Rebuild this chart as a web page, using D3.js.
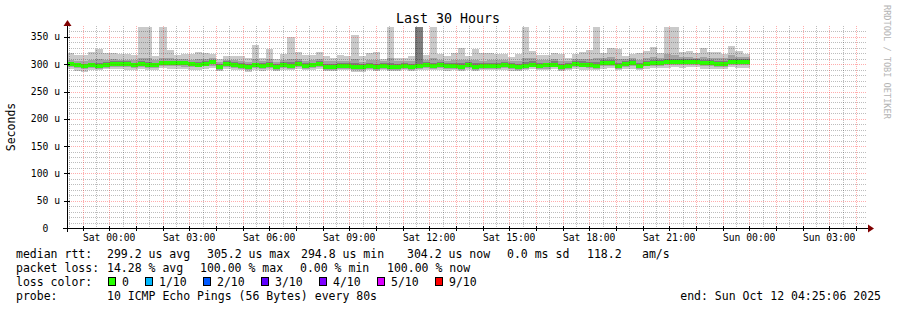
<!DOCTYPE html>
<html>
<head>
<meta charset="utf-8">
<script src="https://cdn.jsdelivr.net/npm/d3@7"></script>
<style>
  body { margin: 0; background: #fff; }
  text { font-family: "DejaVu Sans Mono", monospace; fill: #000; }
</style>
</head>
<body>
<div id="app"></div>
<script>
// time window of the graph (treated as UTC so the labels don't depend on the host)
const startTime = new Date(Date.UTC(2025, 9, 10, 22, 25, 6));
const endTime = new Date(Date.UTC(2025, 9, 12, 4, 25, 6));
const stepMinutes = 16;

// median rtt per step, in us
const median = [299.9,298.1,296.3,298.1,297.5,298.7,299.9,300.6,299.9,298.1,
  299.9,298.1,298.7,301.8,301.8,301.8,301.8,299.9,299.3,301.2,
  303.6,295.7,299.9,298.7,297.5,294.4,298.1,296.9,298.7,295.7,
  298.7,297.5,299.9,297.5,298.0,299.9,295.7,295.7,297.5,297.5,
  295.7,294.4,297.5,295.7,297.5,295.7,295.7,297.5,295.7,297.5,
  298.7,296.9,298.7,296.9,296.9,295.7,298.7,295.7,296.9,297.5,
  297.5,298.7,296.9,295.7,297.5,299.3,296.9,297.8,299.3,295.7,
  297.5,299.9,299.3,298.7,297.5,301.8,303.0,297.5,300.6,301.8,
  297.5,301.2,303.0,303.0,303.6,303.6,303.6,304.2,304.2,302.4,
  302.4,300.6,299.9,304.2,303.6,303.6];

// smoke: sorted pings 1,2,3 (low side) and 8,9,10 (high side)
const ping1 = [291,288,286,289,290,291,292,291,290,289,
  291,289,290,293,292,292,291,290,290,292,
  293,287,291,290,289,285,290,288,289,287,
  290,289,291,289,290,291,288,287,289,290,
  286,285,289,288,289,288,288,289,288,289,
  290,289,290,288,289,288,290,288,289,289,
  289,290,288,288,289,291,289,290,291,287,
  289,291,290,290,289,292,293,289,291,292,
  289,292,293,293,293,294,293,294,294,292,
  292,291,291,294,293,293];
const ping2 = [294,293,291,293,292,293,295,295,294,293,
  294,293,293,296,296,296,295,294,294,296,
  297,290,294,293,292,289,293,291,293,290,
  293,292,294,292,293,294,290,290,292,292,
  290,289,292,290,292,290,290,292,290,292,
  293,291,293,291,291,290,293,290,291,292,
  292,293,291,290,292,294,291,292,294,290,
  292,294,294,293,292,296,297,292,295,296,
  292,296,297,297,298,298,298,298,298,297,
  297,295,294,298,298,298];
const ping3 = [297,296,294,296,295,296,297,298,297,296,
  297,296,296,299,299,299,299,297,297,299,
  301,293,297,296,295,292,296,294,296,293,
  296,295,297,295,296,297,293,293,295,295,
  293,292,295,293,295,293,293,295,293,295,
  296,294,296,294,294,293,296,293,294,295,
  295,296,294,293,295,297,294,295,297,293,
  295,297,297,296,295,299,300,295,298,299,
  295,299,300,300,301,301,301,302,302,300,
  300,298,297,302,301,301];
const ping8 = [304,303,301,303,303,304,305,305,305,303,
  306,304,303,306,306,306,306,304,304,306,
  308,300,305,304,302,300,303,302,304,301,
  304,304,305,302,303,305,301,301,302,302,
  302,300,302,301,302,302,301,302,301,368,
  304,303,304,302,302,302,304,302,302,302,
  302,304,302,301,304,306,302,303,305,301,
  302,305,305,304,304,307,308,303,306,307,
  303,306,308,308,309,309,309,309,309,308,
  308,306,305,309,309,309];
const ping9 = [308,306,305,308,310,307,309,308,308,307,
  312,311,307,312,311,310,310,308,309,310,
  312,304,308,307,306,304,310,305,309,304,
  307,309,309,306,307,310,305,305,306,306,
  310,304,307,307,305,311,305,305,306,368,
  307,312,308,306,307,308,307,308,306,307,
  307,308,305,306,312,312,308,307,309,305,
  306,309,310,310,312,311,313,309,309,311,
  308,311,314,312,318,316,313,313,312,314,
  312,311,311,316,314,314];
const ping10 = [320,316,316,322,328,320,321,318,319,317,
  368,368,315,368,326,317,319,319,322,320,
  318,310,315,315,315,311,335,311,328,309,
  319,350,322,316,317,322,315,312,317,315,
  354,315,321,322,310,368,311,311,315,368,
  317,368,318,315,320,329,315,328,320,320,
  318,319,313,319,368,324,317,316,320,318,
  311,319,322,326,368,320,329,328,315,318,
  320,324,331,320,368,368,323,324,320,329,
  322,322,319,334,324,318];

const yTicks = [0, 50, 100, 150, 200, 250, 300, 350];
const lossLabels = ["0", "1/10", "2/10", "3/10", "4/10", "5/10", "9/10"];
const lossColors = ["#26ff00", "#00b8ff", "#0059ff", "#5e00ff", "#7e00ff", "#dd00ff", "#ff0000"];

const rttLegend = ["median rtt:", "299.2 us avg", "305.2 us max", "294.8 us min", "304.2 us now", "0.0 ms sd", "118.2", "am/s"];
const lossLegend = ["packet loss:", "14.28 % avg", "100.00 % max", "0.00 % min", "100.00 % now"];

const W = 897, H = 310;
const svg = d3.select('#app').append('svg')
  .attr('width', W).attr('height', H)
  .style('display', 'block');

const x = d3.scaleUtc().domain([startTime, endTime]).range([67, 867]);
const y = d3.scaleLinear().domain([0, 370]).range([228, 26]);

const blocks = median.map((m, i) => ({
  t0: d3.utcMinute.offset(startTime, i * stepMinutes),
  t1: d3.utcMinute.offset(startTime, (i + 1) * stepMinutes),
  med: m, p1: ping1[i], p2: ping2[i], p3: ping3[i], p8: ping8[i], p9: ping9[i], p10: ping10[i]
}));

// smoke, outer band first
const bands = [["p1", "p10", "#cacaca"], ["p2", "p9", "#a4a4a4"], ["p3", "p8", "#7e7e7e"]];
const plot = svg.append('g').attr('shape-rendering', 'crispEdges');
bands.forEach(([lo, hi, col]) => {
  plot.append('g').selectAll('rect').data(blocks).join('rect')
    .attr('x', d => Math.round(x(d.t0)))
    .attr('width', d => Math.round(x(d.t1)) - Math.round(x(d.t0)))
    .attr('y', d => y(Math.min(d[hi], 370)))
    .attr('height', d => y(d[lo]) - y(Math.min(d[hi], 370)))
    .attr('fill', col);
});
// median, loss colour (no loss in the window)
plot.append('g').selectAll('rect').data(blocks).join('rect')
  .attr('x', d => Math.round(x(d.t0)))
  .attr('width', d => Math.round(x(d.t1)) - Math.round(x(d.t0)))
  .attr('y', d => Math.round(y(d.med)) - 2)
  .attr('height', 4)
  .attr('fill', lossColors[0]);

// grid: minor every 10 u / 30 min, major every 50 u / 1 h
const halfHours = d3.utcMinute.every(30).range(startTime, endTime).filter(t => t.getUTCMinutes() != 0);
const hours = d3.utcHour.range(startTime, endTime);
const minorY = d3.range(10, 370, 10).filter(v => v % 50 != 0);
const minorCol = 'rgba(0,0,0,0.26)', majorCol = 'rgba(255,0,0,0.32)';
const grid = svg.append('g').attr('shape-rendering', 'crispEdges');
function hLines(vals, col) {
  grid.append('g').selectAll('line').data(vals).join('line')
    .attr('x1', 67).attr('x2', 867)
    .attr('y1', d => Math.round(y(d)) + 0.5).attr('y2', d => Math.round(y(d)) + 0.5)
    .attr('stroke', col).attr('stroke-dasharray', '1,1');
}
function vLines(vals, col) {
  grid.append('g').selectAll('line').data(vals).join('line')
    .attr('x1', d => Math.round(x(d)) + 0.5).attr('x2', d => Math.round(x(d)) + 0.5)
    .attr('y1', 26).attr('y2', 228)
    .attr('stroke', col).attr('stroke-dasharray', '1,1');
}
hLines(minorY, minorCol);
vLines(halfHours, minorCol);
hLines(yTicks.slice(1), majorCol);
vLines(hours, majorCol);

// axes
const ax = svg.append('g').attr('shape-rendering', 'crispEdges');
ax.append('line').attr('x1', 63).attr('x2', 869).attr('y1', 228.5).attr('y2', 228.5).attr('stroke', '#000');
ax.append('line').attr('x1', 67.5).attr('x2', 67.5).attr('y1', 232).attr('y2', 24).attr('stroke', '#000');
svg.append('path').attr('d', 'M868,224.5L874,228.5L868,232.5Z').attr('fill', '#800000');
svg.append('path').attr('d', 'M63.5,26L67.5,20L71.5,26Z').attr('fill', '#800000');
ax.append('g').selectAll('line').data(yTicks).join('line')
  .attr('x1', 64).attr('x2', 70)
  .attr('y1', d => Math.round(y(d)) + 0.5).attr('y2', d => Math.round(y(d)) + 0.5)
  .attr('stroke', '#000');
ax.append('g').selectAll('line').data(hours).join('line')
  .attr('x1', d => Math.round(x(d)) + 0.5).attr('x2', d => Math.round(x(d)) + 0.5)
  .attr('y1', 226).attr('y2', 231)
  .attr('stroke', '#000');

svg.append('g').selectAll('text').data(yTicks).join('text')
  .attr('x', 60).attr('y', d => y(d) + 3.5)
  .attr('text-anchor', 'end')
  .style('font-size', '9.7px').style('white-space', 'pre')
  .text(d => d == 0 ? '0  ' : d + ' u');

const fmt = d3.utcFormat('%a %H:%M');
svg.append('g').selectAll('text').data(x.ticks(d3.utcHour.every(3))).join('text')
  .attr('x', d => x(d)).attr('y', 241)
  .attr('text-anchor', 'middle')
  .style('font-size', '9.7px')
  .text(fmt);

svg.append('text').attr('x', 448).attr('y', 23).attr('text-anchor', 'middle')
  .style('font-size', '13.3px').text('Last 30 Hours');
svg.append('text').attr('transform', 'translate(15,127) rotate(-90)')
  .attr('text-anchor', 'middle').style('font-size', '11.5px').text('Seconds');
svg.append('text').attr('transform', 'translate(884,5) rotate(90)')
  .style('font-size', '8.6px').style('fill', '#b4b4b4').text('RRDTOOL / TOBI OETIKER');

// legend
const legX1 = [16, 107, 207, 301, 407, 507, 587, 642];
const legX2 = [16, 107, 200, 300, 387];
const legFont = '11.5px';
svg.append('g').selectAll('text').data(rttLegend).join('text')
  .attr('x', (d, i) => legX1[i]).attr('y', 257.5).style('font-size', legFont).text(d => d);
svg.append('g').selectAll('text').data(lossLegend).join('text')
  .attr('x', (d, i) => legX2[i]).attr('y', 271.5).style('font-size', legFont).text(d => d);
svg.append('text').attr('x', 16).attr('y', 285.5).style('font-size', legFont).text('loss color:');
let lx = 108;
lossLabels.forEach((lab, i) => {
  svg.append('rect').attr('x', lx + 0.5).attr('y', 277.5).attr('width', 7).attr('height', 8)
    .attr('fill', lossColors[i]).attr('stroke', '#000').attr('shape-rendering', 'crispEdges');
  svg.append('text').attr('x', lx + 14).attr('y', 285.5).style('font-size', legFont).text(lab);
  lx += 14 + lab.length * 7 + 16;
});
svg.append('text').attr('x', 16).attr('y', 299.5).style('font-size', legFont).text('probe:');
svg.append('text').attr('x', 107).attr('y', 299.5).style('font-size', legFont).text('10 ICMP Echo Pings (56 Bytes) every 80s');
svg.append('text').attr('x', 881).attr('y', 299.5).attr('text-anchor', 'end').style('font-size', legFont).text('end: Sun Oct 12 04:25:06 2025');
</script>
</body>
</html>
